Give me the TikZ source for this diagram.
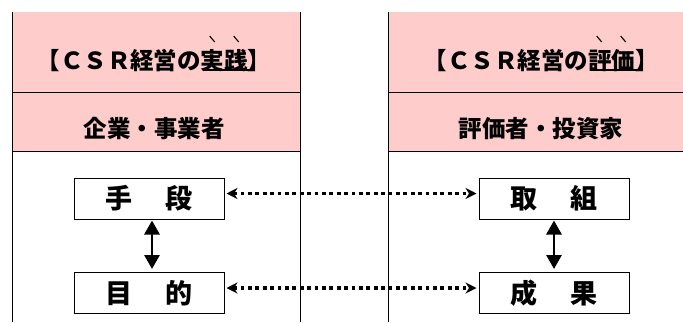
\documentclass[tikz,border=0pt]{standalone}
\usepackage{fontspec}
\setmainfont{Noto Sans CJK JP}[BoldFont={Noto Sans CJK JP Black}]
\usetikzlibrary{arrows.meta}
\definecolor{pinkbg}{RGB}{255,204,204}
\tikzset{
  box/.style={draw, line width=1pt, minimum width=150pt, minimum height=41pt, inner sep=0pt,
    font=\fontsize{27}{27}\selectfont\bfseries},
  head/.style={inner sep=0pt, anchor=base, font=\fontsize{23.5}{23.5}\selectfont\bfseries},
  colline/.style={line width=1pt},
  emphline/.style={line width=1.1pt},
  dotarrow/.style={line width=3.2pt, dash pattern=on 3.8pt off 3.6pt,
    {Stealth[length=11pt,width=11pt]}-{Stealth[length=11pt,width=11pt]}},
  vertarrow/.style={line width=2.8pt,
    {Triangle[length=14pt,width=15pt]}-{Triangle[length=14pt,width=15pt]}}
}
\begin{document}
\begin{tikzpicture}[x=1pt,y=-1pt]
\useasboundingbox (0,0) rectangle (683,322);
% background bands
\fill[pinkbg] (12,12) rectangle (300,151);
\fill[pinkbg] (388,12) rectangle (683,151);
\draw[colline] (12,12) -- (12,322);
\draw[colline] (300,12) -- (300,322);
\draw[colline] (388,12) -- (388,322);
\draw[colline] (12,92) -- (300,92);
\draw[colline] (12,151) -- (300,151);
\draw[colline] (388,92) -- (683,92);
\draw[colline] (388,151) -- (683,151);
% headings
\node[head] (t1) at (154,69) {【ＣＳＲ経営の実践】};
\node[head] (s1) at (154,137) {企業・事業者};
\node[head] (t2) at (541,69) {【ＣＳＲ経営の評価】};
\node[head] (s2) at (541,137) {評価者・投資家};
% underline and emphasis marks
\draw[emphline] ([xshift=-67.5pt,yshift=-1pt]t1.base east) -- ([xshift=-17pt,yshift=-1pt]t1.base east);
\draw[emphline] ([xshift=-62pt,yshift=33pt]t1.base east) -- ([xshift=-57pt,yshift=27pt]t1.base east);
\draw[emphline] ([xshift=-38pt,yshift=33pt]t1.base east) -- ([xshift=-33pt,yshift=27pt]t1.base east);
\draw[emphline] ([xshift=-67.5pt,yshift=-1pt]t2.base east) -- ([xshift=-17pt,yshift=-1pt]t2.base east);
\draw[emphline] ([xshift=-62pt,yshift=33pt]t2.base east) -- ([xshift=-57pt,yshift=27pt]t2.base east);
\draw[emphline] ([xshift=-38pt,yshift=33pt]t2.base east) -- ([xshift=-33pt,yshift=27pt]t2.base east);
% boxes
\node[box] (a) at (149,198.5) {手\hspace{34pt}段};
\node[box] (b) at (149,293) {目\hspace{34pt}的};
\node[box] (c) at (554,198.5) {取\hspace{34pt}組};
\node[box] (d) at (554,293) {成\hspace{34pt}果};
% connectors
\draw[vertarrow] ([xshift=3pt,yshift=-1pt]a.south) -- ([xshift=3pt,yshift=3pt]b.north);
\draw[vertarrow] ([yshift=-1pt]c.south) -- ([yshift=3pt]d.north);
\draw[dotarrow] ([xshift=2pt,yshift=5pt]a.east) -- ([xshift=-2pt,yshift=5pt]c.west);
\draw[dotarrow] ([xshift=2pt,yshift=5pt]b.east) -- ([xshift=-2pt,yshift=5pt]d.west);
\end{tikzpicture}
\end{document}
